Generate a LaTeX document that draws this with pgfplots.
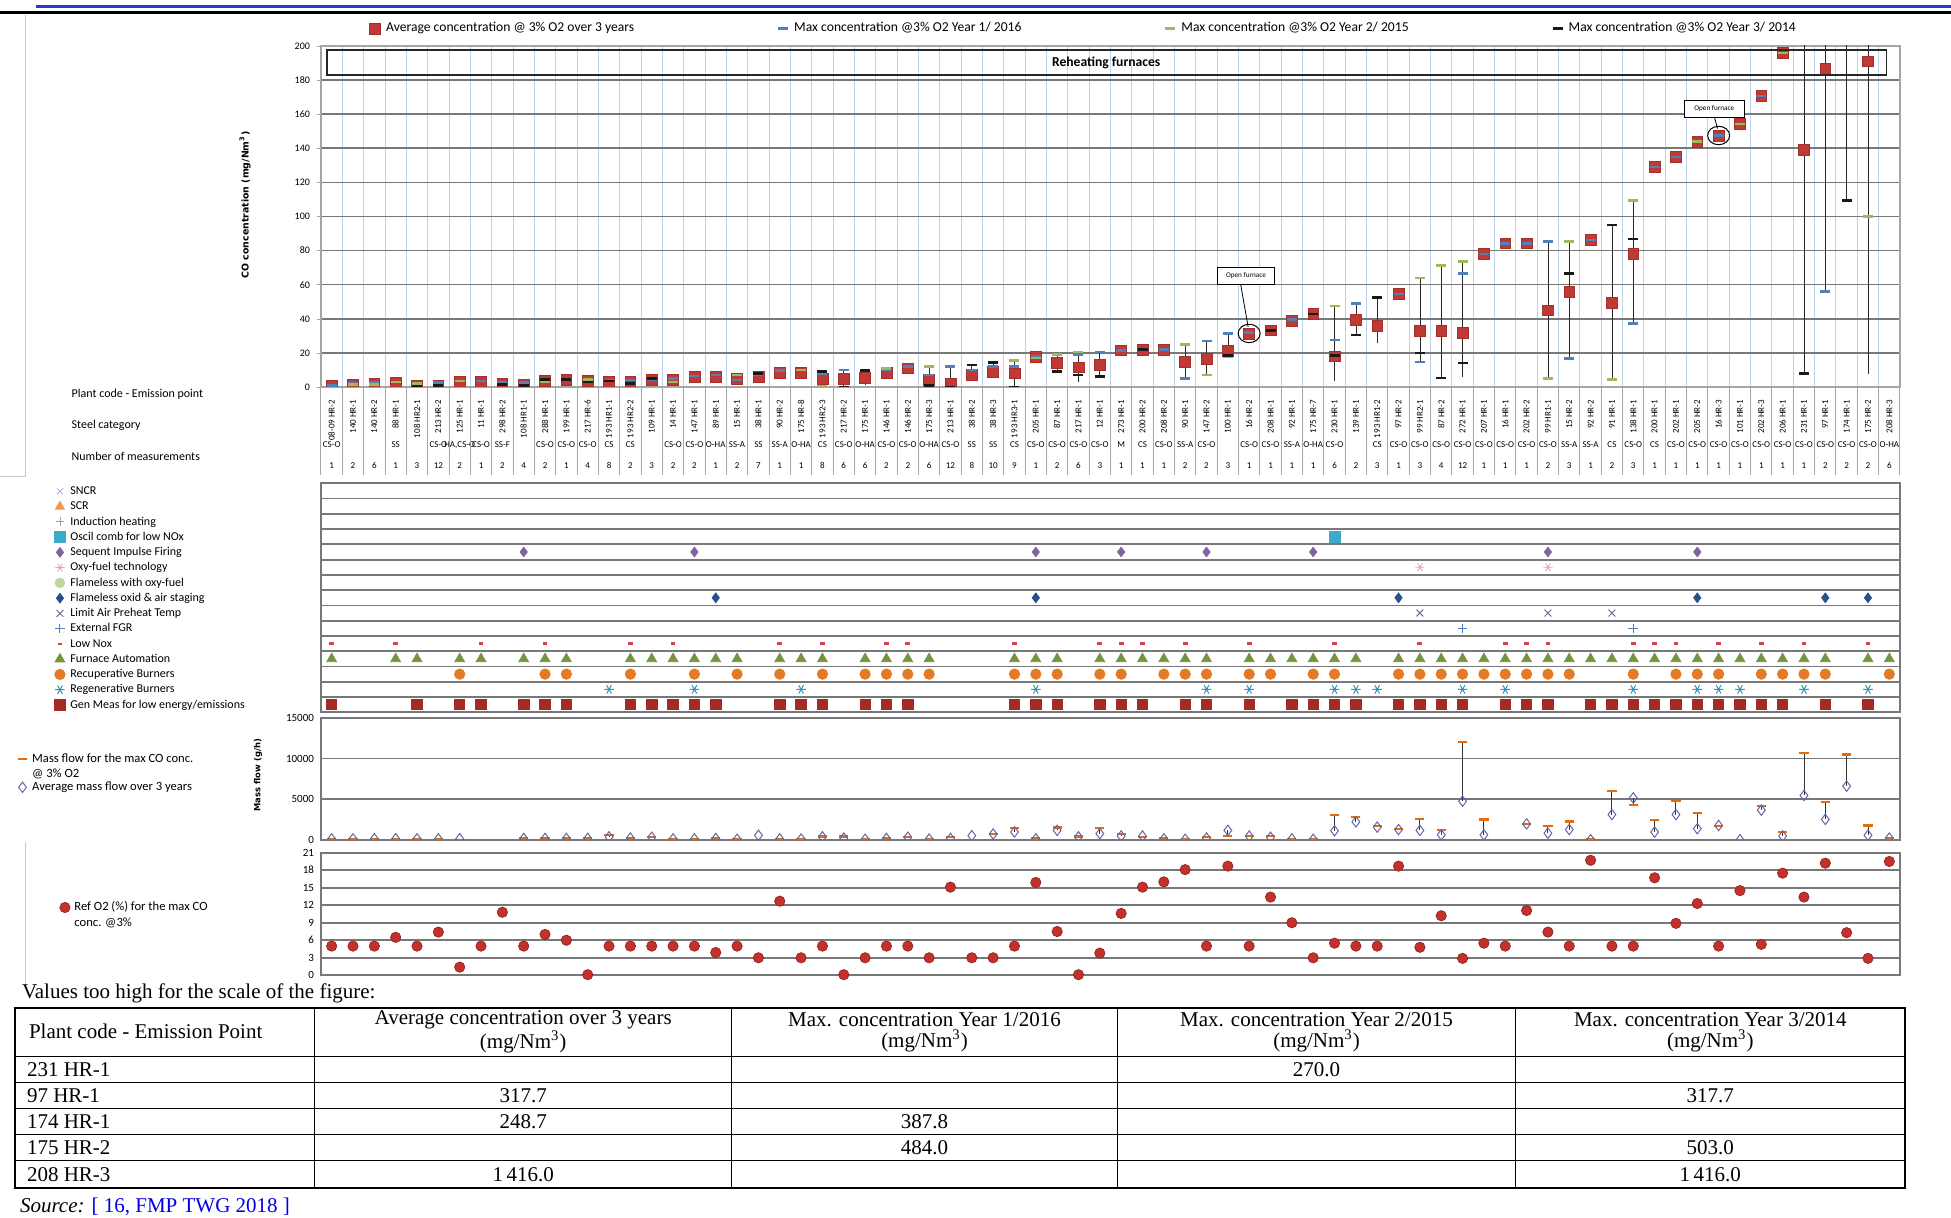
\documentclass[border=0pt]{standalone}
\usepackage{fontspec}
\setmainfont{Carlito}
\newfontfamily\tnr{Liberation Serif}
\newfontfamily\dvs{DejaVu Sans}
\usepackage{graphicx}
\usepackage{pgfplots}
\usepackage{pgfplotstable}
\pgfplotsset{compat=1.18}
\pgfplotsset{/pgf/number format/assume math mode=true}

\definecolor{avgred}{RGB}{192,57,52}
\definecolor{yblue}{RGB}{79,129,189}
\definecolor{ygreen}{RGB}{155,187,89}
\definecolor{yblack}{RGB}{25,25,25}
\definecolor{vgrid}{RGB}{190,210,236}
\definecolor{hgrid}{RGB}{120,120,120}
\definecolor{lgray}{RGB}{200,200,200}
\definecolor{sgray}{RGB}{165,165,165}
\definecolor{genred}{RGB}{165,42,38}
\definecolor{autogreen}{RGB}{119,147,60}
\definecolor{recorange}{RGB}{228,122,38}
\definecolor{regteal}{RGB}{49,150,180}
\definecolor{lownox}{RGB}{210,70,70}
\definecolor{fgrblue}{RGB}{79,129,189}
\definecolor{limitpurp}{RGB}{110,110,150}
\definecolor{flamblue}{RGB}{40,80,140}
\definecolor{oxypink}{RGB}{230,160,160}
\definecolor{seqpurp}{RGB}{128,100,162}
\definecolor{osciteal}{RGB}{60,170,200}
\definecolor{flamgreen}{RGB}{195,214,155}
\definecolor{indgray}{RGB}{160,160,160}
\definecolor{scrorange}{RGB}{247,150,70}
\definecolor{sncrblue}{RGB}{160,180,215}
\definecolor{massorange}{RGB}{228,108,10}
\definecolor{massdiam}{RGB}{100,100,170}
\definecolor{o2red}{RGB}{196,48,43}
\definecolor{linkblue}{RGB}{0,0,230}
\definecolor{rulblue}{RGB}{30,60,220}
\definecolor{hlgray}{RGB}{40,40,40}

\newcommand{\fs}[2]{\fontsize{#1}{#2}\selectfont}
\newcommand{\SC}[2]{\raisebox{-27.8pt}[0pt][0pt]{\makebox[0pt]{#1}}\raisebox{-37.9pt}[0pt][0pt]{\makebox[0pt]{#2}}}
\newcommand{\PC}[1]{\rotatebox{90}{#1\hspace{4.3pt}}}

\pgfplotstableread{
x avg y1 y2 y3
0 1 1 nan nan
1 1.5 2 1.5 nan
2 2 2.5 1.5 nan
3 2.5 nan 3 nan
4 1 nan 2 0.5
5 1 2.5 nan 1
6 3 nan 3.5 nan
7 3 3.5 nan nan
8 2 3 nan 1.5
9 1.5 2.5 nan 1
10 3.5 nan 3 4.5
11 4 nan nan 4.5
12 3.5 nan 4.5 3
13 3 4 nan 3.5
14 3 4 nan 2
15 4 4.5 nan 5
16 4 5 3 nan
17 6 6.5 nan nan
18 6 7 nan nan
19 5 4 7 nan
20 6 7 nan 8
21 8.5 9.5 nan nan
22 8.5 nan 10 nan
23 5 8 0.5 9
24 5 10 nan 0
25 5.5 10 nan 9.5
26 8.5 10 11 nan
27 11 12 nan nan
28 4 7 12 1
29 2 12 nan 0
30 7 10 nan 13
31 9 12 nan 14.5
32 8 12 15.5 0
33 17.5 18 17 nan
34 14 nan 19 9
35 11.5 19 20.5 7
36 13 20.5 nan 6
37 21.5 21.5 nan nan
38 22 nan nan 22
39 22 22 nan nan
40 14.7 5 25 nan
41 16.7 27 7 nan
42 21 31.4 17.5 18.5
43 31.4 32 nan nan
44 33.3 nan nan 33.3
45 39 39.5 nan nan
46 42.7 nan nan 42.7
47 18 27.5 47.5 18.5
48 39.6 49 nan 30.4
49 36 nan nan 52.5
50 54.5 54.5 nan nan
51 33 14.7 64 20
52 33 nan 71.4 5.3
53 32 66.7 73.7 14
54 78 78 nan nan
55 84.3 84.3 nan nan
56 84.3 84.3 nan nan
57 45 85.3 5 nan
58 56 16.7 85.3 66.5
59 86.3 86.3 nan nan
60 49.6 nan 4.5 95
61 78 37.3 109.4 86.7
62 129 129 nan nan
63 135 135 nan nan
64 144 144 144 nan
65 147.5 147.5 nan nan
66 154.3 154.3 154.3 nan
67 170.6 170.6 nan nan
68 196 nan 196 nan
69 139 nan 270 8
70 186.7 55.9 nan 317.7
71 248.7 387.8 nan 109.4
72 191 484 100 503
73 1416 nan nan 1416
}\topdata

% high-low lines: pairs (x,low) (x,high), separated by nan rows
\pgfplotstableread{
x y
23 0.5
23 9
nan nan
24 0
24 10
nan nan
25 1
25 10
nan nan
28 1
28 12
nan nan
29 0
29 12
nan nan
30 7
30 13
nan nan
31 5
31 14.5
nan nan
32 0
32 15.5
nan nan
34 9
34 19
nan nan
35 3
35 20.5
nan nan
36 6
36 20.5
nan nan
40 5
40 25
nan nan
41 7
41 27
nan nan
42 17.5
42 31.4
nan nan
47 3.5
47 47.5
nan nan
48 30.4
48 49
nan nan
49 26
49 52.5
nan nan
51 14.7
51 64
nan nan
52 5.3
52 71.4
nan nan
53 6
53 73.7
nan nan
57 5
57 85.3
nan nan
58 16.7
58 85.3
nan nan
60 4.5
60 95
nan nan
61 37.3
61 109.4
nan nan
69 8
69 270
nan nan
70 55.9
70 317.7
nan nan
71 109.4
71 387.8
nan nan
72 7.8
72 503
}\hltop

\pgfplotstableread{
x avg max
0 100 50
1 100 60
2 120 70
3 120 60
4 100 50
5 100 60
6 120 nan
7 nan nan
8 nan nan
9 150 200
10 150 250
11 150 200
12 150 150
13 350 550
14 200 250
15 300 350
16 100 100
17 100 100
18 150 200
19 50 50
20 550 nan
21 100 50
22 80 50
23 350 400
24 200 400
25 50 50
26 150 200
27 300 350
28 80 50
29 150 300
30 500 nan
31 700 750
32 950 1400
33 100 150
34 1150 1500
35 350 400
36 750 1450
37 450 750
38 450 350
39 100 250
40 50 100
41 200 350
42 1150 500
43 450 450
44 300 450
45 100 100
46 50 100
47 1100 3050
48 2200 2800
49 1550 1650
50 1250 1300
51 1150 2600
52 600 1200
53 4750 12000
54 600 2500
55 nan nan
56 1950 1950
57 800 1650
58 1250 2250
59 0 50
60 3100 6050
61 5150 4250
62 950 2400
63 3100 4800
64 1350 3300
65 1750 1650
66 0 nan
67 3650 4200
68 450 950
69 5450 10650
70 2500 4650
71 6600 10500
72 550 1750
73 200 150
}\massdata

\pgfplotstableread{
x lo err
13 350 200
24 200 200
29 150 150
32 950 450
34 1150 350
36 750 700
37 450 300
39 100 150
41 200 150
42 500 650
47 1100 1950
48 2200 600
51 1150 1450
52 600 600
53 4750 7250
54 600 1900
57 800 850
58 1250 1000
60 3100 2950
61 4250 900
62 950 1450
63 3100 1700
64 1350 1950
67 3650 550
68 450 500
69 5450 5200
70 2500 2150
71 6600 3900
72 550 1200
}\hlmass

\pgfplotstableread{
x o2
0 5
1 5
2 5
3 6.5
4 5
5 7.4
6 1.4
7 5
8 10.8
9 5
10 7
11 6
12 0.1
13 5
14 5
15 5
16 5
17 5
18 3.9
19 5
20 3
21 12.7
22 3
23 5
24 0.1
25 3
26 5
27 5
28 3
29 15.1
30 3
31 3
32 5
33 15.9
34 7.5
35 0.1
36 3.8
37 10.6
38 15.1
39 16
40 18.1
41 5
42 18.7
43 5
44 13.4
45 9
46 3
47 5.5
48 5
49 5
50 18.7
51 4.8
52 10.2
53 2.9
54 5.5
55 5
56 11.1
57 7.4
58 5
59 19.7
60 5
61 5
62 16.7
63 8.9
64 12.3
65 5
66 14.5
67 5.3
68 17.5
69 13.4
70 19.2
71 7.3
72 2.9
73 19.5
}\otwo

\begin{document}
\begin{tikzpicture}
\useasboundingbox (0,0) rectangle (975.5pt,-609pt);
% page rules
\draw[rulblue, line width=1.4pt] (18pt,-3.3pt) -- (975.5pt,-3.3pt);
\draw[black, line width=1.1pt] (0pt,-6.3pt) -- (975.5pt,-6.3pt);
\draw[lgray, line width=0.5pt] (12.5pt,-7.5pt) -- (12.5pt,-238.5pt) -- (0pt,-238.5pt);
\draw[lgray, line width=0.5pt] (12.5pt,-421pt) -- (12.5pt,-492pt);

% ================= TOP CHART =================
\begin{axis}[
  at={(160.5pt,-23pt)}, anchor=north west,
  width=789.5pt, height=170.5pt, scale only axis,
  xmin=-0.5, xmax=73.5, ymin=0, ymax=200,
  clip mode=individual, clip marker paths=true,
  axis line style={draw=sgray, line width=0.6pt},
  ytick={0,20,...,200}, ytick pos=left, tick align=outside,
  major tick length=2pt, tick style={draw=sgray},
  yticklabel style={font=\fs{5}{6}},
  ymajorgrids, major grid style={draw=hgrid, line width=0.8pt},
  minor xtick={-0.5,0.5,...,73.5}, xminorgrids, minor grid style={draw=vgrid, line width=0.5pt},
  minor tick length=0pt,
  major x tick style={draw=none},
  xtick={0,...,73},
  xticklabel style={anchor=north, inner sep=0pt, font=\fs{4.5}{5}},
  xticklabels={\SC{CS-O}{1},\SC{}{2},\SC{}{6},\SC{SS}{1},\SC{}{3},\SC{CS-O}{12},\SC{HA,CS-O}{2},\SC{CS-O}{1},\SC{SS-F}{2},\SC{}{4},
    \SC{CS-O}{2},\SC{CS-O}{1},\SC{CS-O}{4},\SC{CS}{8},\SC{CS}{2},\SC{}{3},\SC{CS-O}{2},\SC{CS-O}{2},\SC{O-HA}{1},\SC{SS-A}{2},
    \SC{SS}{7},\SC{SS-A}{1},\SC{O-HA}{1},\SC{CS}{8},\SC{CS-O}{6},\SC{O-HA}{6},\SC{CS-O}{2},\SC{CS-O}{2},\SC{O-HA}{6},\SC{CS-O}{12},
    \SC{SS}{8},\SC{SS}{10},\SC{CS}{9},\SC{CS-O}{1},\SC{CS-O}{2},\SC{CS-O}{6},\SC{CS-O}{3},\SC{M}{1},\SC{CS}{1},\SC{CS-O}{1},
    \SC{SS-A}{2},\SC{CS-O}{2},\SC{}{3},\SC{CS-O}{1},\SC{CS-O}{1},\SC{SS-A}{1},\SC{O-HA}{1},\SC{CS-O}{6},\SC{}{2},\SC{CS}{3},
    \SC{CS-O}{1},\SC{CS-O}{3},\SC{CS-O}{4},\SC{CS-O}{12},\SC{CS-O}{1},\SC{CS-O}{1},\SC{CS-O}{1},\SC{CS-O}{2},\SC{SS-A}{3},\SC{SS-A}{1},
    \SC{CS}{2},\SC{CS-O}{3},\SC{CS}{1},\SC{CS-O}{1},\SC{CS-O}{1},\SC{CS-O}{1},\SC{CS-O}{1},\SC{CS-O}{1},\SC{CS-O}{1},\SC{CS-O}{1},
    \SC{CS-O}{2},\SC{CS-O}{2},\SC{CS-O}{2},\SC{O-HA}{6},\SC{CS-O}{1}},
  extra x ticks={0,...,73},
  extra x tick labels={\PC{08-09 HR-2},\PC{140 HR-1},\PC{140 HR-2},\PC{88 HR-1},\PC{108 HR2-1},\PC{213 HR-2},\PC{125 HR-1},\PC{11 HR-1},\PC{298 HR-2},\PC{108 HR1-1},
    \PC{288 HR-1},\PC{199 HR-1},\PC{217 HR-6},\PC{193 HR1-1},\PC{193 HR2-2},\PC{109 HR-1},\PC{14 HR-1},\PC{147 HR-1},\PC{89 HR-1},\PC{15 HR-1},
    \PC{38 HR-1},\PC{90 HR-2},\PC{175 HR-8},\PC{193 HR2-3},\PC{217 HR-2},\PC{175 HR-1},\PC{146 HR-1},\PC{146 HR-2},\PC{175 HR-3},\PC{213 HR-1},
    \PC{38 HR-2},\PC{38 HR-3},\PC{193 HR3-1},\PC{205 HR-1},\PC{87 HR-1},\PC{217 HR-1},\PC{12 HR-1},\PC{273 HR-1},\PC{200 HR-2},\PC{208 HR-2},
    \PC{90 HR-1},\PC{147 HR-2},\PC{100 HR-1},\PC{16 HR-2},\PC{208 HR-1},\PC{92 HR-1},\PC{175 HR-7},\PC{230 HR-1},\PC{139 HR-1},\PC{193 HR1-2},
    \PC{97 HR-2},\PC{99 HR2-1},\PC{87 HR-2},\PC{272 HR-1},\PC{207 HR-1},\PC{16 HR-1},\PC{202 HR-2},\PC{99 HR1-1},\PC{15 HR-2},\PC{92 HR-2},
    \PC{91 HR-1},\PC{138 HR-1},\PC{200 HR-1},\PC{202 HR-1},\PC{205 HR-2},\PC{16 HR-3},\PC{101 HR-1},\PC{202 HR-3},\PC{206 HR-1},\PC{231 HR-1},
    \PC{97 HR-1},\PC{174 HR-1},\PC{175 HR-2},\PC{208 HR-3}},
  extra x tick style={grid=none, tick label style={font=\fs{5}{5.5}}},
  ylabel={CO concentration (mg/Nm\textsuperscript{3})},
  ylabel style={at={(axis description cs:-0.0481,0.534)}, anchor=center, font=\dvs\bfseries\fs{4.7}{6}},
  legend columns=4,
  legend image code/.code={\draw[#1] plot coordinates {(0pt,0pt)};},
  legend style={at={(0.0266,1.051)}, anchor=west, draw=none, fill=none, font=\fs{6.8}{7},
    /tikz/every even column/.append style={column sep=70pt},
    /tikz/every odd column/.append style={column sep=1pt}},
]
\addplot[hlgray, line width=0.35pt, forget plot, unbounded coords=jump] table[x=x, y=y] {\hltop};
\addplot[only marks, mark=square*, mark size=2.7pt, mark options={fill=avgred, draw=avgred!85!black, line width=0.3pt}] table[x=x, y=avg] {\topdata};
\addlegendentry{Average concentration @ 3\% O2 over 3 years}
\addplot[only marks, mark=-, mark size=2.5pt, line width=1.3pt, color=yblue] table[x=x, y=y1] {\topdata};
\addlegendentry{Max concentration @3\% O2 Year 1/ 2016}
\addplot[only marks, mark=-, mark size=2.5pt, line width=1.3pt, color=ygreen] table[x=x, y=y2] {\topdata};
\addlegendentry{Max concentration @3\% O2 Year 2/ 2015}
\addplot[only marks, mark=-, mark size=2.5pt, line width=1.3pt, color=yblack] table[x=x, y=y3] {\topdata};
\addlegendentry{Max concentration @3\% O2 Year 3/ 2014}
% strip separators
\pgfplotsinvokeforeach{0,...,74}{\draw[draw=sgray, line width=0.5pt] (axis cs:#1-0.5,0) -- ++(0pt,-44pt);}
% title box
\draw[black!85, line width=0.7pt] (axis cs:-0.22,197.7) rectangle (axis cs:72.88,183);
\node[font=\bfseries\fs{6.8}{8}] at (axis cs:36.3,190.2) {Reheating furnaces};
% open furnace notes
\draw[black, line width=0.4pt, fill=white] (axis cs:41.5,60.2) rectangle (axis cs:44.2,70);
\node[font=\fs{3.6}{4}] at (axis cs:42.85,65.1) {Open furnace};
\draw[black, line width=0.4pt] (axis cs:42.6,60.2) -- (axis cs:42.95,35.3);
\draw[black, line width=0.5pt] (axis cs:43,31.4) ellipse [x radius=5.5pt, y radius=4.6pt];
\draw[black, line width=0.4pt, fill=white] (axis cs:63.4,158.4) rectangle (axis cs:66.2,168.3);
\node[font=\fs{3.6}{4}] at (axis cs:64.8,163.35) {Open furnace};
\draw[black, line width=0.4pt] (axis cs:64.8,158.4) -- (axis cs:64.95,151.6);
\draw[black, line width=0.5pt] (axis cs:65,147.5) ellipse [x radius=5.5pt, y radius=4.6pt];
\end{axis}

\node[anchor=west, font=\fs{6}{7}] at (32.3pt,-197.4pt) {Plant code - Emission point};
\node[anchor=west, font=\fs{6}{7}] at (32.3pt,-212.8pt) {Steel category};
\node[anchor=west, font=\fs{6}{7}] at (32.3pt,-228.3pt) {Number of measurements};

% ================= TECHNIQUES =================
\begin{axis}[
  at={(160.5pt,-241.65pt)}, anchor=north west,
  width=789.5pt, height=114.5pt, scale only axis,
  xmin=-0.5, xmax=73.5, ymin=0.5, ymax=15.5,
  xtick=\empty, minor xtick={-0.5,0.5,...,73.5}, xminorgrids, minor grid style={draw=lgray, line width=0.4pt},
  ytick={0.5,1.5,...,15.5}, yticklabels={}, ymajorgrids, major grid style={draw=hgrid, line width=0.9pt},
  major tick length=0pt, minor tick length=0pt,
  axis line style={draw=hgrid, line width=0.9pt},
  legend image code/.code={\draw[#1] plot coordinates {(0pt,0pt)};},
  legend cell align=left,
  legend style={at={(-0.169,1)}, anchor=north west, draw=none, fill=none, font=\fs{6}{7},
    inner sep=0pt, row sep=0pt, nodes={inner sep=0pt, text height=5.4pt, text depth=2.23pt},
    /tikz/every odd column/.append style={column sep=2.5pt}},
]
\addlegendimage{only marks, mark=x, mark size=2.2pt, color=sncrblue}
\addlegendentry{SNCR}
\addlegendimage{only marks, mark=triangle*, mark size=2.6pt, color=scrorange}
\addlegendentry{SCR}
\addlegendimage{only marks, mark=+, mark size=2.2pt, color=indgray}
\addlegendentry{Induction heating}
\addplot[only marks, mark=square*, mark size=2.7pt, color=osciteal] table[y expr=12, row sep=\\] {x\\47\\};
\addlegendentry{Oscil comb for low NOx}
\addplot[only marks, mark=diamond*, mark size=2.4pt, color=seqpurp] table[y expr=11, row sep=\\] {x\\9\\17\\33\\37\\41\\46\\57\\64\\};
\addlegendentry{Sequent Impulse Firing}
\addplot[only marks, mark=asterisk, mark size=2.3pt, mark options={rotate=90}, color=oxypink] table[y expr=10, row sep=\\] {x\\51\\57\\};
\addlegendentry{Oxy-fuel technology}
\addlegendimage{only marks, mark=*, mark size=2.4pt, color=flamgreen}
\addlegendentry{Flameless with oxy-fuel}
\addplot[only marks, mark=diamond*, mark size=2.4pt, color=flamblue] table[y expr=8, row sep=\\] {x\\18\\33\\50\\64\\70\\72\\};
\addlegendentry{Flameless oxid \& air staging}
\addplot[only marks, mark=x, mark size=2.4pt, line width=0.5pt, color=limitpurp] table[y expr=7, row sep=\\] {x\\51\\57\\60\\};
\addlegendentry{Limit Air Preheat Temp}
\addplot[only marks, mark=+, mark size=2.4pt, line width=0.5pt, color=fgrblue] table[y expr=6, row sep=\\] {x\\53\\61\\};
\addlegendentry{External FGR}
\addplot[only marks, mark=-, mark size=1.2pt, line width=1.3pt, color=lownox] table[y expr=5, row sep=\\] {x\\0\\3\\7\\10\\14\\16\\21\\23\\26\\27\\32\\36\\37\\38\\40\\43\\47\\51\\55\\56\\57\\61\\62\\63\\65\\67\\69\\72\\};
\addlegendentry{Low Nox}
\addplot[only marks, mark=triangle*, mark size=2.8pt, color=autogreen] table[y expr=4, row sep=\\] {x\\0\\3\\4\\6\\7\\9\\10\\11\\14\\15\\16\\17\\18\\19\\21\\22\\23\\25\\26\\27\\28\\32\\33\\34\\36\\37\\38\\39\\40\\41\\43\\44\\45\\46\\47\\48\\50\\51\\52\\53\\54\\55\\56\\57\\58\\59\\60\\61\\62\\63\\64\\65\\66\\67\\68\\69\\70\\72\\73\\};
\addlegendentry{Furnace Automation}
\addplot[only marks, mark=*, mark size=2.6pt, color=recorange] table[y expr=3, row sep=\\] {x\\6\\10\\11\\14\\17\\19\\21\\23\\25\\26\\27\\28\\32\\33\\34\\36\\37\\39\\40\\41\\43\\44\\46\\47\\50\\51\\52\\53\\54\\55\\56\\57\\58\\61\\63\\64\\65\\67\\68\\69\\70\\73\\};
\addlegendentry{Recuperative Burners}
\addplot[only marks, mark=asterisk, mark size=2.4pt, mark options={rotate=90}, line width=0.5pt, color=regteal] table[y expr=2, row sep=\\] {x\\13\\17\\22\\33\\41\\43\\47\\48\\49\\53\\55\\61\\64\\65\\66\\69\\72\\};
\addlegendentry{Regenerative Burners}
\addplot[only marks, mark=square*, mark size=2.6pt, color=genred] table[y expr=1, row sep=\\] {x\\0\\4\\6\\7\\9\\10\\11\\14\\15\\16\\17\\18\\21\\22\\23\\25\\26\\27\\32\\33\\34\\36\\37\\38\\40\\41\\43\\45\\46\\47\\48\\50\\51\\52\\53\\55\\56\\57\\59\\60\\61\\62\\63\\64\\65\\66\\67\\68\\70\\72\\};
\addlegendentry{Gen Meas for low energy/emissions}
\end{axis}

% ================= MASS FLOW =================
\begin{axis}[
  at={(160.5pt,-359pt)}, anchor=north west,
  width=789.5pt, height=60.85pt, scale only axis,
  xmin=-0.5, xmax=73.5, ymin=0, ymax=15000,
  clip mode=individual, clip marker paths=true,
  xtick=\empty, minor xtick={-0.5,0.5,...,73.5}, xminorgrids, minor grid style={draw=lgray, line width=0.4pt},
  ytick={0,5000,10000,15000}, ymajorgrids, major grid style={draw=hgrid, line width=0.9pt},
  major tick length=0pt, minor tick length=0pt,
  scaled y ticks=false, /pgf/number format/1000 sep={},
  yticklabel style={font=\fs{5.5}{6}},
  axis line style={draw=hgrid, line width=0.9pt},
  ylabel={Mass flow (g/h)},
  ylabel style={at={(axis description cs:-0.0399,0.53)}, anchor=center, font=\dvs\bfseries\fs{4.2}{5}},
  legend image code/.code={\draw[#1] plot coordinates {(0pt,0pt)};},
  legend cell align=left,
  legend style={at={(-0.1929,0.712)}, anchor=north west, draw=none, fill=none, font=\fs{6.3}{7.5},
    inner sep=0pt, row sep=0.6pt, nodes={inner sep=0pt, align=left},
    /tikz/every odd column/.append style={column sep=2pt}},
]
\addplot[draw=none, forget plot, error bars/.cd, y dir=plus, y explicit, error mark=none,
  error bar style={draw=black!80, line width=0.45pt, solid}] table[x=x, y=lo, y error=err] {\hlmass};
\addlegendimage{legend image code/.code={\draw[massorange, line width=1.1pt] (-2.3pt,3.75pt) -- (2.3pt,3.75pt);}}
\addlegendentry{Mass flow for the max CO conc.\\@ 3\% O2}
\addplot[only marks, mark=-, mark size=2.3pt, line width=1.1pt, color=massorange, forget plot] table[x=x, y=max] {\massdata};
\addplot[only marks, mark=diamond, mark size=2.6pt, line width=0.5pt, color=massdiam] table[x=x, y=avg] {\massdata};
\addlegendentry{Average mass flow over 3 years}
\end{axis}

% ================= O2 =================
\begin{axis}[
  at={(160.5pt,-426.35pt)}, anchor=north west,
  width=789.5pt, height=61.3pt, scale only axis,
  xmin=-0.5, xmax=73.5, ymin=0, ymax=21,
  xtick=\empty, minor xtick={-0.5,0.5,...,73.5}, xminorgrids, minor grid style={draw=lgray, line width=0.4pt},
  ytick={0,3,...,21}, ymajorgrids, major grid style={draw=hgrid, line width=0.9pt},
  major tick length=0pt, minor tick length=0pt,
  yticklabel style={font=\fs{5.5}{6}},
  axis line style={draw=hgrid, line width=0.9pt},
  legend cell align=left,
  legend style={at={(-0.1659,0.606)}, anchor=north west, draw=none, fill=none, font=\fs{6.3}{8},
    inner sep=0pt, nodes={inner sep=0pt, align=left},
    /tikz/every odd column/.append style={column sep=2pt}},
]
\addlegendimage{legend image code/.code={\draw[fill=o2red, draw=o2red!70!black, line width=0.3pt] (0pt,4pt) circle (2.6pt);}}
\addlegendentry{Ref O2 (\%) for the max CO\\conc. @3\%}
\addplot[only marks, mark=*, mark size=2.6pt, mark options={fill=o2red, draw=o2red!70!black, line width=0.3pt}, forget plot] table[x=x, y=o2] {\otwo};
\end{axis}

% ================= TABLE =================
\node[anchor=base west, font=\tnr\fs{10.5}{12}] at (7.5pt,-499.5pt) {Values too high for the scale of the figure:};
\begin{scope}[font=\tnr\fs{10.5}{10.6}]
\draw[black, line width=0.5pt] (7.45pt,-528.2pt) -- (952.5pt,-528.2pt);
\foreach \yy in {-541.25,-554.35,-567.4,-580.45} \draw[black, line width=0.5pt] (7.45pt,\yy pt) -- (952.5pt,\yy pt);
\foreach \xx in {157.4,365.8,558.7,757.8} \draw[black, line width=0.5pt] (\xx pt,-503.95pt) -- (\xx pt,-594.15pt);
\draw[black, line width=1.1pt] (7.45pt,-503.95pt) rectangle (952.5pt,-594.15pt);
\node[anchor=west] at (11pt,-515.9pt) {Plant code - Emission Point};
\node[align=center] at (261.6pt,-516pt) {Average concentration over 3 years\\(mg/Nm\textsuperscript{3})};
\node[align=center] at (462.25pt,-516pt) {Max. concentration Year 1/2016\\(mg/Nm\textsuperscript{3})};
\node[align=center] at (658.25pt,-516pt) {Max. concentration Year 2/2015\\(mg/Nm\textsuperscript{3})};
\node[align=center] at (855.15pt,-516pt) {Max. concentration Year 3/2014\\(mg/Nm\textsuperscript{3})};
\node[anchor=west] at (10pt,-534.7pt) {231 HR-1};
\node[anchor=west] at (10pt,-547.8pt) {97 HR-1};
\node[anchor=west] at (10pt,-560.9pt) {174 HR-1};
\node[anchor=west] at (10pt,-573.9pt) {175 HR-2};
\node[anchor=west] at (10pt,-587.3pt) {208 HR-3};
\node at (658.25pt,-534.7pt) {270.0};
\node at (261.6pt,-547.8pt) {317.7};
\node at (855.15pt,-547.8pt) {317.7};
\node at (261.6pt,-560.9pt) {248.7};
\node at (462.25pt,-560.9pt) {387.8};
\node at (462.25pt,-573.9pt) {484.0};
\node at (855.15pt,-573.9pt) {503.0};
\node at (261.6pt,-587.3pt) {1\,416.0};
\node at (855.15pt,-587.3pt) {1\,416.0};
\end{scope}
\node[anchor=base west, font=\tnr\fs{10.5}{12}] at (6.5pt,-606pt) {\textit{Source:} \textcolor{linkblue}{\underline{[ 16, FMP TWG 2018 ]}}};
\end{tikzpicture}
\end{document}
